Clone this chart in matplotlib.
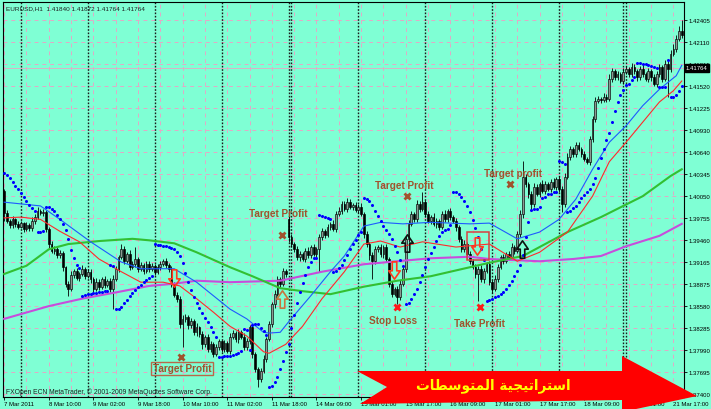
import numpy as np
import matplotlib
matplotlib.use("Agg")
from matplotlib import pyplot as plt
from matplotlib.path import Path
from matplotlib.patches import Polygon, Rectangle
from matplotlib.transforms import Affine2D

# ---- chart data (EURUSD H1, 7 Mar 18:00 .. 21 Mar) ----
closes = [
    1.3982, 1.3972, 1.3966, 1.3974, 1.3968, 1.3964, 1.3969, 1.3961, 1.3966, 1.3962,
    1.3972, 1.3977, 1.3985, 1.3982, 1.3984, 1.3961, 1.3941, 1.3932, 1.3934, 1.3926,
    1.3929, 1.3910, 1.3888, 1.3881, 1.3900, 1.3905, 1.3896, 1.3901, 1.3908, 1.3898,
    1.3904, 1.3894, 1.3881, 1.3890, 1.3884, 1.3894, 1.3886, 1.3892, 1.3881, 1.3894,
    1.3908, 1.3924, 1.3934, 1.3918, 1.3928, 1.3910, 1.3914, 1.3921, 1.3908, 1.3913,
    1.3905, 1.3914, 1.3908, 1.3912, 1.3904, 1.3910, 1.3914, 1.3918, 1.3913, 1.3908,
    1.3888, 1.3873, 1.3868, 1.3834, 1.3841, 1.3843, 1.3833, 1.3838, 1.3823, 1.3830,
    1.3821, 1.3807, 1.3817, 1.3801, 1.3807, 1.3794, 1.3803, 1.3811, 1.3801, 1.3809,
    1.3798, 1.3817, 1.3822, 1.3814, 1.3823, 1.3817, 1.3803, 1.3811, 1.3830, 1.3794,
    1.3774, 1.3761, 1.3771, 1.3787, 1.3814, 1.3834, 1.3861, 1.3874, 1.3894, 1.3888,
    1.3905, 1.3901, 1.3950, 1.3941, 1.3934, 1.3924, 1.3928, 1.3921, 1.3932, 1.3926,
    1.3937, 1.3928, 1.3934, 1.3950, 1.3958, 1.3953, 1.3964, 1.3968, 1.3961, 1.3981,
    1.3985, 1.3995, 1.3988, 1.3997, 1.3991, 1.3993, 1.3987, 1.3991, 1.3981, 1.3954,
    1.3941, 1.3926, 1.3918, 1.3934, 1.3937, 1.3928, 1.3937, 1.3921, 1.3888, 1.3874,
    1.3881, 1.3870, 1.3888, 1.3908, 1.3948, 1.3968, 1.3981, 1.3974, 1.3995, 1.3988,
    1.3997, 1.3981, 1.3972, 1.3977, 1.3968, 1.3972, 1.3964, 1.3981, 1.3974, 1.3985,
    1.3977, 1.3972, 1.3964, 1.3948, 1.3934, 1.3941, 1.3928, 1.3918, 1.3910, 1.3901,
    1.3908, 1.3894, 1.3905, 1.3914, 1.3890, 1.3881, 1.3894, 1.3910, 1.3924, 1.3918,
    1.3928, 1.3924, 1.3937, 1.3932, 1.3954, 1.3981, 1.4031, 1.4021, 1.4008, 1.3995,
    1.4017, 1.4008, 1.4021, 1.4012, 1.4021, 1.4015, 1.4024, 1.4017, 1.4028, 1.4015,
    1.3995, 1.4031, 1.4057, 1.4068, 1.4061, 1.4073, 1.4068, 1.4061, 1.4055, 1.4051,
    1.4081, 1.4108, 1.4132, 1.4135, 1.4134, 1.4138, 1.4135, 1.4162, 1.4172, 1.4164,
    1.4168, 1.4159, 1.4171, 1.4175, 1.4168, 1.4178, 1.4172, 1.4164, 1.4175, 1.4168,
    1.4162, 1.4172, 1.4164, 1.4155, 1.4168, 1.4178, 1.4162, 1.4182, 1.4175, 1.4195,
    1.4202, 1.4215, 1.4226, 1.4220,
]
# opens follow the previous close except where the market gapped
first_open = 1.4012
gap_opens = {102: 1.3974}

# shadows in pips above / below the candle body
wick_up = [
    3, 4, 3, 5, 2, 4, 3, 2, 4, 3, 5, 4, 6, 3, 4, 2, 3, 4, 5, 3,
    4, 3, 2, 4, 5, 3, 4, 3, 5, 2, 4, 3, 3, 5, 4, 3, 4, 2, 3, 5,
    4, 3, 7, 4, 3, 5, 4, 16, 3, 4, 3, 5, 4, 3, 2, 4, 5, 3, 4, 3,
    3, 2, 4, 3, 5, 4, 3, 4, 3, 5, 2, 4, 3, 4, 5, 3, 4, 3, 2, 4,
    3, 5, 4, 3, 4, 3, 5, 4, 3, 4, 3, 2, 4, 5, 3, 4, 3, 5, 4, 3,
    4, 3, 6, 4, 3, 5, 4, 3, 4, 5, 3, 4, 3, 4, 5, 3, 4, 3, 5, 4,
    5, 4, 3, 5, 4, 3, 4, 3, 5, 3, 4, 3, 4, 5, 3, 4, 3, 4, 3, 4,
    3, 4, 5, 3, 4, 5, 4, 3, 5, 4, 14, 3, 4, 3, 5, 4, 3, 4, 5, 3,
    4, 3, 4, 3, 4, 5, 3, 4, 3, 4, 3, 5, 4, 3, 4, 3, 5, 4, 3, 4,
    3, 4, 5, 3, 4, 5, 21, 4, 3, 4, 5, 4, 3, 5, 4, 3, 4, 5, 3, 4,
    3, 5, 6, 4, 3, 5, 4, 3, 4, 3, 5, 4, 6, 4, 3, 5, 4, 6, 5, 3,
    4, 3, 5, 4, 3, 5, 4, 3, 4, 5, 3, 4, 3, 4, 5, 4, 3, 5, 4, 5,
    6, 5, 7, 14,
]
wick_dn = [
    10, 3, 4, 3, 4, 3, 2, 4, 3, 4, 3, 4, 3, 2, 3, 4, 5, 3, 4, 3,
    4, 5, 4, 9, 3, 4, 3, 4, 3, 4, 3, 5, 4, 3, 4, 3, 4, 3, 4, 27,
    3, 4, 3, 4, 3, 4, 3, 4, 5, 3, 4, 3, 4, 3, 4, 3, 4, 3, 4, 5,
    4, 3, 4, 5, 31, 4, 5, 4, 3, 5, 4, 6, 3, 4, 5, 4, 3, 4, 5, 4,
    3, 4, 3, 4, 5, 3, 4, 3, 4, 5, 4, 11, 4, 3, 4, 3, 4, 5, 3, 4,
    3, 4, 6, 4, 3, 4, 5, 3, 4, 3, 4, 3, 4, 30, 3, 4, 3, 4, 3, 4,
    3, 4, 3, 4, 3, 4, 3, 4, 3, 5, 4, 6, 24, 4, 3, 4, 5, 4, 5, 4,
    3, 9, 4, 3, 5, 4, 3, 4, 3, 4, 3, 4, 3, 4, 3, 5, 4, 3, 4, 3,
    4, 3, 5, 4, 3, 4, 5, 4, 3, 5, 36, 4, 5, 3, 4, 5, 3, 4, 3, 4,
    3, 4, 3, 4, 3, 4, 5, 4, 5, 7, 4, 3, 4, 3, 4, 3, 4, 3, 4, 5,
    11, 4, 3, 4, 3, 4, 3, 4, 3, 3, 4, 3, 4, 3, 4, 3, 4, 3, 4, 3,
    4, 3, 4, 3, 4, 3, 4, 5, 3, 4, 3, 4, 5, 3, 4, 3, 4, 3, 37, 4,
    3, 4, 3, 4,
]

# moving averages (bar index, price)
blue_bars = [0, 13, 20, 31, 42, 49, 57, 61, 69, 75, 81, 87, 93, 95, 99, 102, 110, 117,
             122, 129, 135, 143, 153, 167, 174, 184, 192, 199, 205, 211, 217, 223, 229,
             235, 241, 243]
blue_vals = [1.3997, 1.3992, 1.3974, 1.3944, 1.3917, 1.3908, 1.3908, 1.3908, 1.3890,
             1.3872, 1.3854, 1.3841, 1.3823, 1.3822, 1.3823, 1.3837, 1.3872, 1.3904,
             1.3925, 1.3965, 1.3970, 1.3968, 1.3970, 1.3968, 1.3969, 1.3948, 1.3957,
             1.3974, 1.4001, 1.4041, 1.4077, 1.4099, 1.4126, 1.4148, 1.4166, 1.4180]
red_bars = [0, 6, 13, 20, 27, 34, 42, 49, 57, 63, 69, 75, 81, 87, 93, 95, 101, 107,
            114, 122, 129, 135, 142, 150, 162, 174, 184, 192, 202, 211, 217, 223, 229,
            235, 240, 243]
red_vals = [1.3976, 1.3977, 1.3974, 1.3958, 1.3944, 1.3921, 1.3904, 1.3890, 1.3890,
            1.3885, 1.3868, 1.3850, 1.3831, 1.3818, 1.3797, 1.3795, 1.3807, 1.3831,
            1.3868, 1.3904, 1.3941, 1.3945, 1.3937, 1.3944, 1.3937, 1.3941, 1.3918,
            1.3930, 1.3957, 1.4005, 1.4051, 1.4077, 1.4104, 1.4131, 1.4146, 1.4159]
green_bars = [0, 8, 16, 23, 34, 46, 52, 61, 69, 81, 89, 99, 107, 117, 129, 141, 153,
              167, 174, 186, 202, 214, 229, 239, 243]
green_vals = [1.3901, 1.3912, 1.3934, 1.3941, 1.3945, 1.3948, 1.3946, 1.3942, 1.3930,
              1.3910, 1.3898, 1.3882, 1.3878, 1.3874, 1.3884, 1.3892, 1.3898, 1.3910,
              1.3916, 1.3925, 1.3957, 1.3977, 1.4005, 1.4032, 1.4041]
magenta_bars = [0, 16, 28, 41, 52, 61, 69, 81, 99, 114, 129, 141, 153, 167, 174, 192,
                204, 214, 223, 235, 243]
magenta_vals = [1.3841, 1.3858, 1.3868, 1.3877, 1.3885, 1.3888, 1.3892, 1.3890, 1.3892,
                1.3904, 1.3914, 1.3918, 1.3922, 1.3924, 1.3921, 1.3918, 1.3921, 1.3925,
                1.3938, 1.3952, 1.3968]
sar_start = 1.4036

# axis texts
x_tick_bars = list(range(0, 241, 16))
x_labels = ["7 Mar 2011", "8 Mar 10:00", "9 Mar 02:00", "9 Mar 18:00", "10 Mar 10:00",
            "11 Mar 02:00", "11 Mar 18:00", "14 Mar 09:00", "15 Mar 01:00", "15 Mar 17:00",
            "16 Mar 09:00", "17 Mar 01:00", "17 Mar 17:00", "18 Mar 09:00", "21 Mar 01:00",
            "21 Mar 17:00"]
price_ticks = [1.42405, 1.42110, 1.41815, 1.41520, 1.41225, 1.40930, 1.40640, 1.40345,
               1.40050, 1.39755, 1.39460, 1.39165, 1.38875, 1.38580, 1.38285, 1.37990,
               1.37695, 1.37400]
day_separators = [6, 30, 54, 78, 102, 103, 127, 151, 175, 199, 222, 223]
bid_price = 1.41764
header = "EURUSD,H1  1.41840 1.41872 1.41764 1.41764"
footer = "FXOpen ECN MetaTrader, \u00a9 2001-2009 MetaQuotes Software Corp."

# trade annotations
label_bars = [63.8, 98.4, 143.4, 139.4, 170.6, 182.4]
label_prices = [1.3775, 1.3982, 1.4020, 1.3840, 1.3836, 1.4036]
label_texts = ["Target Profit", "Target Profit", "Target Profit", "Stop Loss",
               "Take Profit", "Target profit"]
cross_bars = [63.4, 99.6, 144.4, 140.9, 170.6, 181.4]
cross_prices = [1.3790, 1.3953, 1.4005, 1.3857, 1.3857, 1.4021]
cross_kinds = ["target", "target", "target", "loss", "loss", "target"]
arrow_bars = [61, 99.6, 139.8, 144.4, 169.5, 185.7]
arrow_prices = [1.3895, 1.3868, 1.3906, 1.3942, 1.3938, 1.3934]
arrow_dirs = ["down", "up", "down", "up", "down", "up"]
arrow_colors = ["#ff3a1e", "#c8743c", "#ff3a1e", "#101010", "#ff3a1e", "#101010"]
box_bars = (166, 174)
box_prices = (1.3920, 1.3957)
banner_text = "استراتيجية المتوسطات"

BG = "#7fffd4"
GRID = "#e2a9c6"
BROWN = "#a0522d"
PIP = 0.0001

plt.rcParams["font.family"] = ["Liberation Sans", "DejaVu Sans"]


def parabolic_sar(high, low, start, step=0.02, af_max=0.2):
    sar = np.zeros(len(high))
    sar[0] = start
    trend = -1
    ep = low[0]
    af = step * 2
    for i in range(1, len(high)):
        s = sar[i - 1] + af * (ep - sar[i - 1])
        if trend < 0:
            s = max(s, high[i - 1], high[max(i - 2, 0)])
            if high[i] > s:
                trend, s, ep, af = 1, ep, high[i], step
            elif low[i] < ep:
                ep = low[i]
                af = min(af + step, af_max)
        else:
            s = min(s, low[i - 1], low[max(i - 2, 0)])
            if low[i] < s:
                trend, s, ep, af = -1, ep, low[i], step
            elif high[i] > ep:
                ep = high[i]
                af = min(af + step, af_max)
        sar[i] = s
    return sar


# isolated, final, initial, medial presentation forms
ARABIC_FORMS = {
    "ا": ("\ufe8d", "\ufe8e", None, None),
    "ر": ("\ufead", "\ufeae", None, None),
    "و": ("\ufeed", "\ufeee", None, None),
    "ة": ("\ufe93", "\ufe94", None, None),
    "س": ("\ufeb1", "\ufeb2", "\ufeb3", "\ufeb4"),
    "ت": ("\ufe95", "\ufe96", "\ufe97", "\ufe98"),
    "ي": ("\ufef1", "\ufef2", "\ufef3", "\ufef4"),
    "ج": ("\ufe9d", "\ufe9e", "\ufe9f", "\ufea0"),
    "ل": ("\ufedd", "\ufede", "\ufedf", "\ufee0"),
    "م": ("\ufee1", "\ufee2", "\ufee3", "\ufee4"),
    "ط": ("\ufec1", "\ufec2", "\ufec3", "\ufec4"),
}


def shape_arabic(text):
    # matplotlib has no text shaping, so join letters by hand and lay out right-to-left
    out = []
    for i, ch in enumerate(text):
        forms = ARABIC_FORMS.get(ch)
        if forms is None:
            out.append(ch)
            continue
        prev = text[i - 1] if i > 0 else ""
        nxt = text[i + 1] if i + 1 < len(text) else ""
        join_prev = prev in ARABIC_FORMS and ARABIC_FORMS[prev][2] is not None
        join_next = nxt in ARABIC_FORMS and forms[2] is not None
        if join_prev and join_next:
            out.append(forms[3])
        elif join_prev:
            out.append(forms[1])
        elif join_next:
            out.append(forms[2])
        else:
            out.append(forms[0])
    return "".join(reversed(out))


def arrow_marker(direction):
    verts = [(-0.13, -0.5), (0.13, -0.5), (0.13, 0.02), (0.33, 0.02), (0.0, 0.5),
             (-0.33, 0.02), (-0.13, 0.02), (-0.13, -0.5)]
    if direction == "down":
        verts = [(x, -y) for x, y in verts]
    return Path(verts, closed=True)


closes = np.array(closes)
bars = np.arange(len(closes))
opens = np.r_[first_open, closes[:-1]]
for k, v in gap_opens.items():
    opens[k] = v
highs = np.maximum(opens, closes) + np.array(wick_up) * PIP
lows = np.minimum(opens, closes) - np.array(wick_dn) * PIP
sar = parabolic_sar(highs, lows, sar_start)

W, H = 711, 410
fig = plt.figure(figsize=(W / 100, H / 100), dpi=100, facecolor=BG)
ax = fig.add_axes([2.5 / W, 1 - 398 / H, 681.5 / W, 395.5 / H])
ax.set_facecolor(BG)
ax.set_xlim(-0.6, 243.8)
ax.set_ylim(1.37365, 1.42653)

# grid and period separators
for p in price_ticks:
    ax.axhline(p, color=GRID, lw=0.7, ls=(0, (4, 4)), zorder=1)
for b in range(0, 244, 8):
    ax.axvline(b, color=GRID, lw=0.7, ls=(0, (4, 4)), zorder=1)
for b in day_separators:
    ax.axvline(b, color="#1a1a1a", lw=1.0, ls=(0, (1.2, 1.2)), zorder=1.5)
ax.axhline(bid_price, color="#d9b3c6", lw=0.7, zorder=1.5)

# candles
up = closes >= opens
ax.vlines(bars, lows, highs, color="black", lw=0.6, zorder=3)
ax.bar(bars[up], (closes - opens)[up], bottom=opens[up], width=0.62,
       color="#8c9892", edgecolor="black", lw=0.45, zorder=4)
ax.bar(bars[~up], (opens - closes)[~up], bottom=closes[~up], width=0.62,
       color="black", edgecolor="black", lw=0.45, zorder=4)

# indicators
ax.plot(magenta_bars, magenta_vals, color="#c84cdc", lw=1.5, zorder=5)
ax.plot(green_bars, green_vals, color="#32c032", lw=1.5, zorder=5)
ax.plot(red_bars, red_vals, color="#ff2a2a", lw=0.8, zorder=5)
ax.plot(blue_bars, blue_vals, color="#1e5aff", lw=0.8, zorder=5)
ax.plot(bars, sar, "o", color="#0000ff", ms=2.2, mew=0, zorder=6)

# trade signals
ax.add_patch(Rectangle((box_bars[0], box_prices[0]), box_bars[1] - box_bars[0],
                       box_prices[1] - box_prices[0], fill=False, ec="#d84040",
                       lw=1.1, zorder=7))
for b, p, d, c in zip(arrow_bars, arrow_prices, arrow_dirs, arrow_colors):
    ax.plot(b, p, marker=arrow_marker(d), ms=12.5, mfc="none", mec=c, mew=1.2, zorder=8)
for b, p, kind in zip(cross_bars, cross_prices, cross_kinds):
    col = "#ff1a1a" if kind == "loss" else BROWN
    ax.plot(b, p, marker="x", ms=5, mec=col, mew=2.0, zorder=8)
for i, (b, p, t) in enumerate(zip(label_bars, label_prices, label_texts)):
    box = dict(boxstyle="square,pad=0.15", fc="none", ec="#b8684a", lw=1.0) if i == 0 else None
    ax.text(b, p, t, ha="center", va="center", fontsize=7.2, fontweight="bold",
            color=BROWN, bbox=box, zorder=9)

# axes look
for side in ["left", "top", "right", "bottom"]:
    ax.spines[side].set_color("black")
    ax.spines[side].set_linewidth(0.8)
ax.yaxis.tick_right()
ax.set_yticks(price_ticks)
ax.set_yticklabels([f"{p:.5f}" for p in price_ticks])
ax.set_xticks(x_tick_bars)
ax.set_xticklabels(x_labels, ha="left")
ax.tick_params(axis="both", length=2.5, width=0.6, colors="black", labelsize=4.3, pad=0.6)
ax.text(1.0025, bid_price, f"{bid_price:.5f}", transform=ax.get_yaxis_transform(),
        ha="left", va="center", fontsize=4.3, color="white", zorder=10, clip_on=False,
        bbox=dict(boxstyle="square,pad=0.2", fc="black", ec="black"))

# pixel transform for overlay items
px = Affine2D().scale(1 / W, -1 / H).translate(0, 1) + fig.transFigure
fig.text(6, 9, header, transform=px, fontsize=4.6, va="center", ha="left", color="#202020")
fig.text(6, 392, footer, transform=px, fontsize=4.9, va="center", ha="left", color="#202020")

banner = [(357, 372), (622, 372), (622, 357), (697, 397), (622, 413), (622, 401),
          (360, 405), (387, 388)]
fig.add_artist(Polygon(banner, closed=True, transform=px, fc="#ff0000", ec="none", zorder=20))
fig.text(493, 386, shape_arabic(banner_text), transform=px, ha="center", va="center",
         fontsize=9.8, fontweight="bold", color="#ffff00", family=["DejaVu Sans"], zorder=21)

fig.savefig("out.png", dpi=100, facecolor=BG)
